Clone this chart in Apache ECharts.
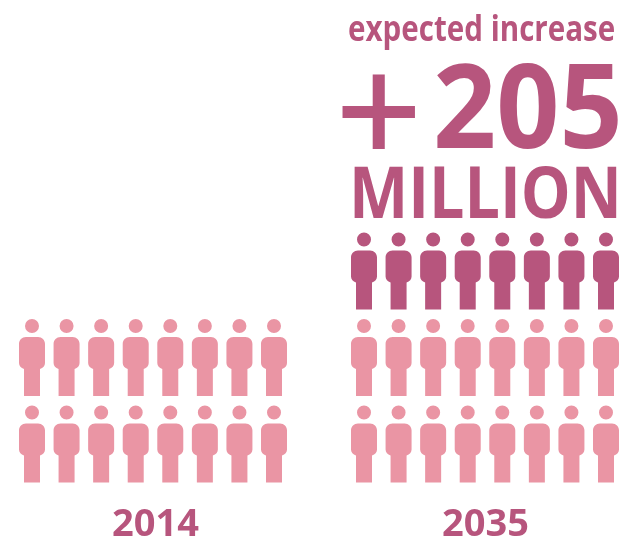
<!DOCTYPE html>
<html>
<head>
<meta charset="utf-8">
<title>Expected increase</title>
<script src="https://cdn.jsdelivr.net/npm/echarts@6/dist/echarts.min.js"></script>
<style>
	html, body { margin: 0; padding: 0; background: #fff; }
	#chart { width: 620px; height: 545px; }
</style>
</head>
<body>
<div id="chart"></div>
<script>
var years = ['2014', '2035']
var columns = ['c1', 'c2', 'c3', 'c4', 'c5', 'c6', 'c7', 'c8']
var rows = ['bottom', 'middle', 'top']
// figures in each row, bottom row first
var figures2014 = [8, 8, 0]
var figures2035 = [8, 8, 0]
var increase2035 = [0, 0, 8]
var headline = 'expected increase'
var plusSign = '+'
var increaseValue = '205'
var increaseUnit = 'MILLION'

var lightPink = '#ea95a4'
var darkPink = '#b7557d'
var person = 'path://M13 0A7 7 0 1 1 13 14A7 7 0 1 1 13 0ZM7 18H19C23 18 26 21 26 25V44C26 47 24 49 21 50V77H5V50C2 49 0 47 0 44V25C0 21 3 18 7 18Z'

function points(counts) {
	var out = []
	counts.forEach(function (count, r) {
		for (var c = 0; c < count; c++) out.push([columns[c], rows[r]])
	})
	return out
}

function figureSeries(counts, grid, color) {
	return {
		type: 'scatter',
		xAxisIndex: grid,
		yAxisIndex: grid,
		symbol: person,
		symbolSize: [26, 77],
		itemStyle: { color: color, opacity: 1 },
		clip: false,
		silent: true,
		animation: false,
		data: points(counts)
	}
}

function label(text, x, y, size, scaleX, weight, stroke) {
	return {
		type: 'text',
		x: x,
		y: y,
		scaleX: scaleX,
		silent: true,
		style: {
			text: text,
			fill: darkPink,
			stroke: stroke ? darkPink : null,
			lineWidth: stroke || 0,
			font: (weight || 'bold') + ' ' + size + 'px "Open Sans"',
			textAlign: 'left',
			textVerticalAlign: 'middle'
		}
	}
}

var chart = echarts.init(document.getElementById('chart'), null, { renderer: 'canvas' })
chart.setOption({
	animation: false,
	grid: [
		{ left: 32, top: 271, width: 242, height: 173 },
		{ left: 364, top: 271, width: 242, height: 173 }
	],
	xAxis: [
		{ type: 'category', gridIndex: 0, data: columns, show: false, boundaryGap: false },
		{ type: 'category', gridIndex: 1, data: columns, show: false, boundaryGap: false }
	],
	yAxis: [
		{ type: 'category', gridIndex: 0, data: rows, show: false, boundaryGap: false },
		{ type: 'category', gridIndex: 1, data: rows, show: false, boundaryGap: false }
	],
	series: [
		figureSeries(figures2014, 0, lightPink),
		figureSeries(figures2035, 1, lightPink),
		figureSeries(increase2035, 1, darkPink)
	],
	graphic: [
		label(headline, 348, 31, 35, 0.845),
		label(plusSign, 336, 122, 150, 1, 'normal', 2),
		label(increaseValue, 433, 115, 117, 0.945),
		label(increaseUnit, 349, 198, 71, 0.885),
		label(years[0], 112, 525, 38, 1),
		label(years[1], 442, 525, 38, 1)
	]
})
</script>
</body>
</html>
